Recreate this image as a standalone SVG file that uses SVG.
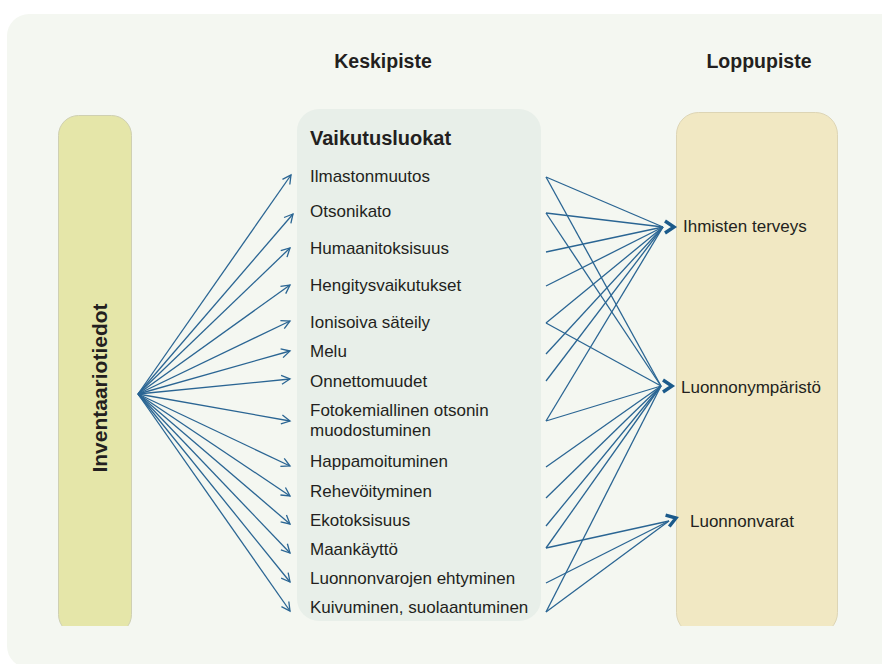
<svg xmlns="http://www.w3.org/2000/svg" width="882" height="664" viewBox="0 0 882 664">
<defs>
<style>
.t{font-family:"Liberation Sans",Arial,sans-serif;fill:#231f20;font-size:17px}
.h{font-family:"Liberation Sans",Arial,sans-serif;fill:#231f20;font-weight:bold;font-size:19.5px}
.vt{font-family:"Liberation Sans",Arial,sans-serif;fill:#231f20;font-weight:bold;font-size:20px}
.inv{font-family:"Liberation Sans",Arial,sans-serif;fill:#231f20;font-weight:bold;font-size:21px}
.ln{stroke:#2a6593;stroke-width:1.3;fill:none}
.ch{stroke:#1b5a8b;stroke-width:3.4;fill:none;stroke-linejoin:miter;stroke-linecap:butt}
</style>
<marker id="ah" markerUnits="userSpaceOnUse" markerWidth="12" markerHeight="12" refX="10" refY="6" orient="auto" viewBox="0 0 12 12">
<path d="M1.5,1.5 L10,6 L1.5,10.5" fill="none" stroke="#2a6593" stroke-width="1.3"/>
</marker>
<clipPath id="cut"><rect x="0" y="0" width="882" height="626"/></clipPath>
<path id="chev" d="M-9,-6 L0,0 L-9,6"/>
</defs>
<rect x="0" y="0" width="882" height="664" fill="#ffffff"/>
<rect x="7" y="14" width="900" height="654" rx="22" fill="#f4f7f1"/>
<text class="h" x="383" y="68" text-anchor="middle">Keskipiste</text>
<text class="h" x="759" y="68" text-anchor="middle">Loppupiste</text>
<g id="inventaario">
<rect x="58.5" y="115.5" width="73" height="519" rx="20" fill="#e5e6a9" stroke="#cfd0b2" stroke-width="1" clip-path="url(#cut)"/>
<text class="inv" x="107" y="388" text-anchor="middle" transform="rotate(-90 107 388)">Inventaariotiedot</text>
</g>
<g id="vaikutusluokat">
<rect x="297" y="109" width="244" height="512" rx="22" fill="#e8efe9"/>
<text class="vt" x="310" y="145">Vaikutusluokat</text>
<text class="t" x="310" y="182">Ilmastonmuutos</text>
<text class="t" x="310" y="217">Otsonikato</text>
<text class="t" x="310" y="254">Humaanitoksisuus</text>
<text class="t" x="310" y="291">Hengitysvaikutukset</text>
<text class="t" x="310" y="328">Ionisoiva säteily</text>
<text class="t" x="310" y="357">Melu</text>
<text class="t" x="310" y="387">Onnettomuudet</text>
<text class="t" x="310" y="416">Fotokemiallinen otsonin</text>
<text class="t" x="310" y="436">muodostuminen</text>
<text class="t" x="310" y="467">Happamoituminen</text>
<text class="t" x="310" y="497">Rehevöityminen</text>
<text class="t" x="310" y="526">Ekotoksisuus</text>
<text class="t" x="310" y="555">Maankäyttö</text>
<text class="t" x="310" y="584">Luonnonvarojen ehtyminen</text>
<text class="t" x="310" y="613">Kuivuminen, suolaantuminen</text>
</g>
<g id="loppupiste">
<rect x="676.5" y="112.5" width="161" height="522" rx="22" fill="#f1e8c3" stroke="#ddd5b5" stroke-width="1" clip-path="url(#cut)"/>
<text class="t" x="683" y="232">Ihmisten terveys</text>
<text class="t" x="681" y="393">Luonnonympäristö</text>
<text class="t" x="690" y="527">Luonnonvarat</text>
</g>
<g id="connectors">
<g class="ln" marker-end="url(#ah)">
<line x1="138" y1="394" x2="291" y2="175"/>
<line x1="138" y1="394" x2="293" y2="214"/>
<line x1="138" y1="394" x2="290" y2="248"/>
<line x1="138" y1="394" x2="290" y2="285"/>
<line x1="138" y1="394" x2="290" y2="321"/>
<line x1="138" y1="394" x2="290" y2="351"/>
<line x1="138" y1="394" x2="290" y2="379"/>
<line x1="138" y1="394" x2="290" y2="421"/>
<line x1="138" y1="394" x2="290" y2="466"/>
<line x1="138" y1="394" x2="290" y2="496"/>
<line x1="138" y1="394" x2="290" y2="524"/>
<line x1="138" y1="394" x2="290" y2="553"/>
<line x1="138" y1="394" x2="290" y2="582"/>
<line x1="138" y1="394" x2="290" y2="611"/>
</g>
<g class="ln">
<line x1="546" y1="177" x2="663" y2="227"/>
<line x1="546" y1="213" x2="663" y2="227"/>
<line x1="546" y1="252" x2="663" y2="227"/>
<line x1="546" y1="286" x2="663" y2="227"/>
<line x1="546" y1="323" x2="663" y2="227"/>
<line x1="546" y1="354" x2="663" y2="227"/>
<line x1="546" y1="381" x2="663" y2="227"/>
<line x1="546" y1="421" x2="663" y2="227"/>
<line x1="546" y1="177" x2="661" y2="386"/>
<line x1="546" y1="213" x2="661" y2="386"/>
<line x1="546" y1="323" x2="661" y2="386"/>
<line x1="546" y1="421" x2="661" y2="386"/>
<line x1="546" y1="467" x2="661" y2="386"/>
<line x1="546" y1="498" x2="661" y2="386"/>
<line x1="546" y1="526" x2="661" y2="386"/>
<line x1="546" y1="548" x2="661" y2="386"/>
<line x1="546" y1="612" x2="661" y2="386"/>
<line x1="546" y1="548" x2="669" y2="521"/>
<line x1="546" y1="583" x2="669" y2="521"/>
<line x1="546" y1="612" x2="669" y2="521"/>
</g>
<use href="#chev" class="ch" transform="translate(674 227)"/>
<use href="#chev" class="ch" transform="translate(672 386)"/>
<use href="#chev" class="ch" transform="translate(676 518) rotate(-18)"/>
</g>
</svg>
